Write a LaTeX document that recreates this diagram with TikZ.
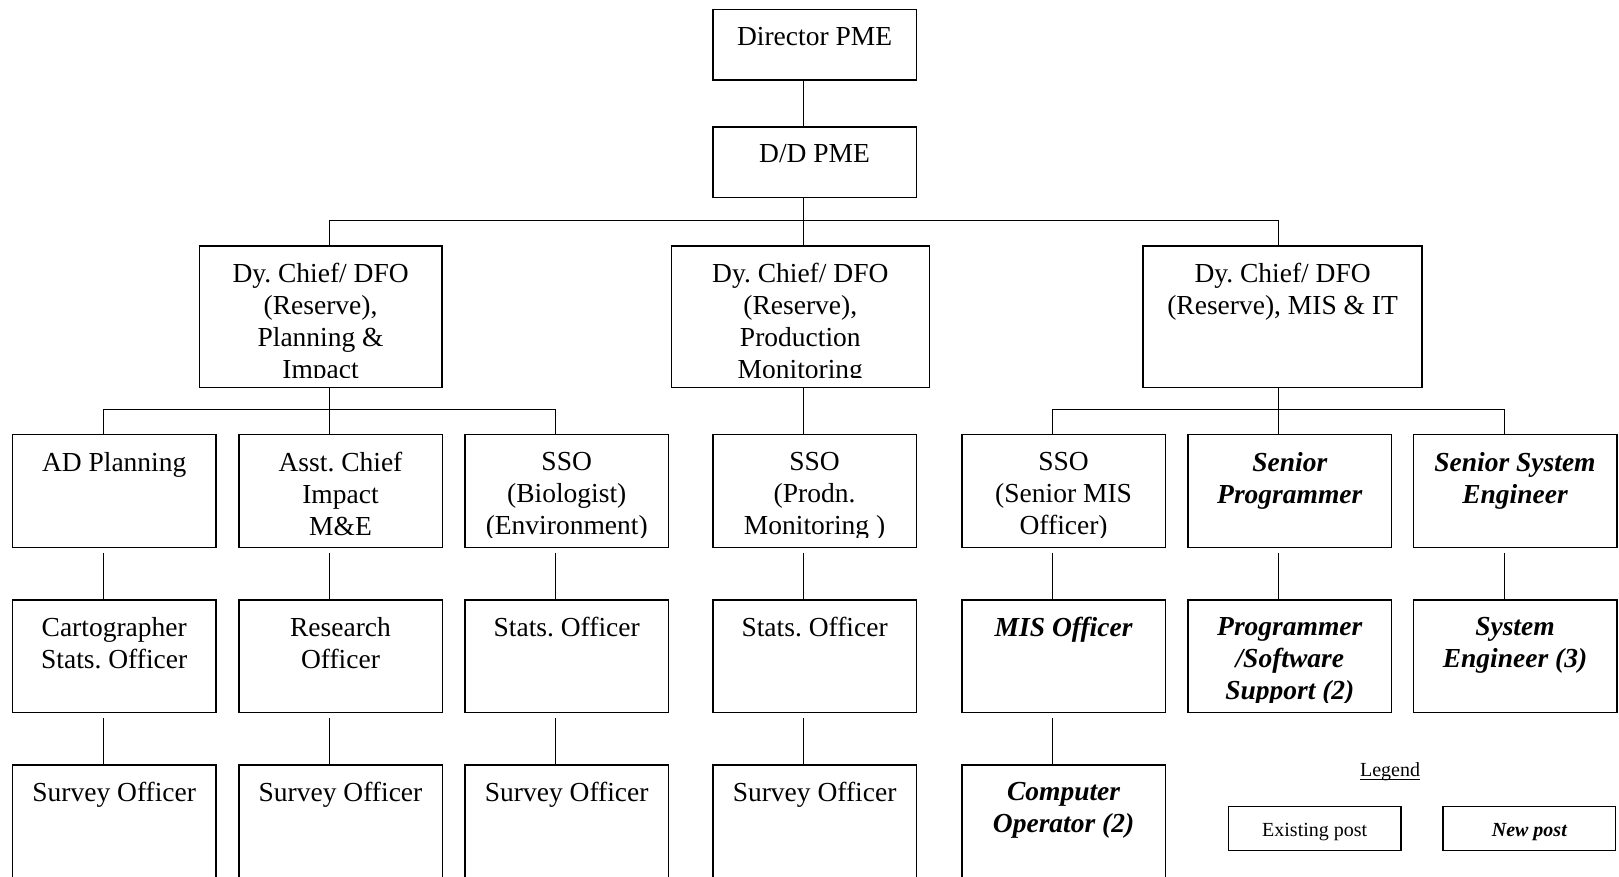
\documentclass[tikz,border=0pt]{standalone}
\usepackage{fontspec}
\setmainfont{Liberation Serif}
\frenchspacing

% text of a post, set at the top of its box and cut off near the box bottom
\newcommand\posttext[3]{%
  \begin{scope}
    \clip (#1.north west) rectangle ([yshift=11pt]#1.south east);
    \node[#2, anchor=north] (#1t) at ([yshift=-18pt]#1.north) {#3};
  \end{scope}}

\begin{document}
\begin{tikzpicture}[x=1pt, y=-1pt,
  post/.style={draw, line width=1.5pt, inner sep=0pt, minimum width=203.5pt},
  lvltop/.style={post, minimum height=70.5pt},
  lvlmid/.style={post, minimum height=141.5pt},
  lvlpost/.style={post, minimum height=112.8pt},
  lvlend/.style={post, minimum height=140pt},
  etxt/.style={inner sep=0pt, align=center, font={\fontsize{27.5}{32}\selectfont}},
  ntxt/.style={inner sep=0pt, align=center, font={\fontsize{27.5}{32}\selectfont\bfseries\itshape}},
  link/.style={line width=1pt},
  legbox/.style={draw, line width=1.5pt, inner sep=0pt, minimum width=172.7pt, minimum height=44pt,
    text height=16pt, text depth=0pt}]

\useasboundingbox (0,0) rectangle (1619,877);
\clip (0,0) rectangle (1619,877);
\fill[white] (0,0) rectangle (1619,877);

% ---- top of the chart ----
\node[lvltop] (dir) at (814.6,44.7) {};
\posttext{dir}{etxt}{Director PME}
\node[lvltop] (dd) at (814.6,162.5) {};
\posttext{dd}{etxt}{D/D PME}

% ---- deputy chiefs ----
\node[lvlmid, minimum width=242.6pt] (A) at (320.6,316.7) {};
\posttext{A}{etxt}{Dy. Chief/ DFO\\(Reserve),\\Planning \&\\Impact}
\node[lvlmid, minimum width=258pt] (B) at (800.3,316.7) {};
\posttext{B}{etxt}{Dy. Chief/ DFO\\(Reserve),\\Production\\Monitoring}
\node[lvlmid, minimum width=278.9pt] (C) at (1282.6,316.7) {};
\posttext{C}{etxt}{Dy. Chief/ DFO\\(Reserve), MIS \& IT}

% ---- first row of posts ----
\node[lvlpost] (c1a) at (114.2,491.1) {};
\posttext{c1a}{etxt}{AD Planning}
\node[lvlpost] (c2a) at (340.5,491.1) {};
\posttext{c2a}{etxt}{Asst. Chief\\Impact\\M\&E}
\node[lvlpost] (c3a) at (566.7,491.1) {};
\posttext{c3a}{etxt}{SSO\\(Biologist)\\(Environment)}
\node[lvlpost] (c4a) at (814.6,491.1) {};
\posttext{c4a}{etxt}{SSO\\(Prodn.\\Monitoring )}
\node[lvlpost] (c5a) at (1063.6,491.1) {};
\posttext{c5a}{etxt}{SSO\\(Senior MIS\\Officer)}
\node[lvlpost] (c6a) at (1289.8,491.1) {};
\posttext{c6a}{ntxt}{Senior\\Programmer}
\node[lvlpost] (c7a) at (1515,491.1) {};
\posttext{c7a}{ntxt}{Senior System\\Engineer}

% ---- second row of posts ----
\node[lvlpost] (c1b) at (114.2,656.2) {};
\posttext{c1b}{etxt}{Cartographer\\Stats. Officer}
\node[lvlpost] (c2b) at (340.5,656.2) {};
\posttext{c2b}{etxt}{Research\\Officer}
\node[lvlpost] (c3b) at (566.7,656.2) {};
\posttext{c3b}{etxt}{Stats. Officer}
\node[lvlpost] (c4b) at (814.6,656.2) {};
\posttext{c4b}{etxt}{Stats. Officer}
\node[lvlpost] (c5b) at (1063.6,656.2) {};
\posttext{c5b}{ntxt}{MIS Officer}
\node[lvlpost] (c6b) at (1289.8,656.2) {};
\posttext{c6b}{ntxt}{Programmer\\/Software\\Support (2)}
\node[lvlpost] (c7b) at (1515,656.2) {};
\posttext{c7b}{ntxt}{System\\Engineer (3)}

% ---- third row of posts ----
\node[lvlend] (c1c) at (114.2,835) {};
\posttext{c1c}{etxt}{Survey Officer}
\node[lvlend] (c2c) at (340.5,835) {};
\posttext{c2c}{etxt}{Survey Officer}
\node[lvlend] (c3c) at (566.7,835) {};
\posttext{c3c}{etxt}{Survey Officer}
\node[lvlend] (c4c) at (814.6,835) {};
\posttext{c4c}{etxt}{Survey Officer}
\node[lvlend] (c5c) at (1063.6,835) {};
\posttext{c5c}{ntxt}{Computer\\Operator (2)}

% ---- reporting lines ----
\draw[link] ([xshift=-11pt]dir.south) -- ([xshift=-11pt]dd.north);
\draw[link] ([xshift=-11pt]dd.south) -- ([xshift=3.3pt]B.north);
\draw[link] ([xshift=8.9pt]A.north) -- ++(0,-24.5) -| ([xshift=-3.8pt]C.north);

\draw[link] ([xshift=8.9pt]A.south) -- ([xshift=-11pt]c2a.north);
\draw[link] ([xshift=-11pt]c1a.north) -- ++(0,-24) -| ([xshift=-11pt]c3a.north);
\draw[link] ([xshift=3.3pt]B.south) -- ([xshift=-11pt]c4a.north);
\draw[link] ([xshift=-3.8pt]C.south) -- ([xshift=-11pt]c6a.north);
\draw[link] ([xshift=-11pt]c5a.north) -- ++(0,-24) -| ([xshift=-11pt]c7a.north);

\foreach \c in {c1,c2,c3,c4,c5,c6,c7}
  \draw[link, shorten <=4.6pt] ([xshift=-11pt]\c a.south) -- ([xshift=-11pt]\c b.north);
\foreach \c in {c1,c2,c3,c4,c5}
  \draw[link, shorten <=4.6pt] ([xshift=-11pt]\c b.south) -- ([xshift=-11pt]\c c.north);

% ---- legend ----
\node[inner sep=0pt, anchor=base, font={\fontsize{20}{24}\selectfont}] (leg) at (1390,776.7) {Legend};
\draw[line width=1pt] ([yshift=-2.6pt]leg.base west) -- ([yshift=-2.6pt]leg.base east);
\node[legbox, font={\fontsize{20}{24}\selectfont}] (lex) at (1314.7,828.7) {Existing post};
\node[legbox, font={\fontsize{20}{24}\selectfont\bfseries\itshape}] (lnew) at (1529.3,828.7) {New post};

\end{tikzpicture}
\end{document}
